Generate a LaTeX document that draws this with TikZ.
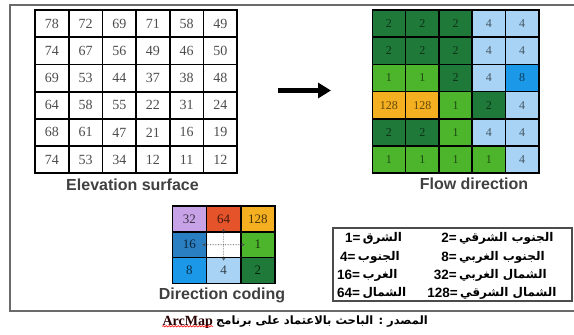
\documentclass[tikz,border=0pt]{standalone}
\usepackage{fontspec}
\setmainfont{Liberation Serif}
\newfontfamily\labelfont{Liberation Sans}
\newfontfamily\arabicfont[Script=Arabic]{DejaVu Sans}
\TeXXeTstate=1
\usetikzlibrary{arrows.meta,decorations.pathmorphing,calc}
\definecolor{dgreen}{HTML}{1F7A3A}
\definecolor{lgreen}{HTML}{4CB52C}
\definecolor{lblue}{HTML}{A8D3F4}
\definecolor{mblue}{HTML}{1C98E8}
\definecolor{orng}{HTML}{F4B020}
\definecolor{lav}{HTML}{C8A2E6}
\definecolor{redo}{HTML}{E5532B}
\definecolor{sblue}{HTML}{2A7EC2}
\definecolor{framegray}{HTML}{6A6A6A}
\begin{document}
\begin{tikzpicture}[x=1pt,y=-1pt,
  elevcell/.style={draw=black, line width=1.8pt, minimum width=33.7pt, minimum height=27.2pt, inner sep=0pt, font=\fontsize{14}{14}\selectfont, text=black!70},
  flowcell/.style={draw=black, line width=1.6pt, minimum width=33.3pt, minimum height=27.2pt, inner sep=0pt, font=\fontsize{12}{12}\selectfont, text=black, text opacity=0.6},
  codecell/.style={draw=black, line width=1.6pt, minimum width=34.2pt, minimum height=25.8pt, inner sep=0pt, font=\fontsize{13}{13}\selectfont, text=black, text opacity=0.7},
  caption/.style={font=\labelfont\bfseries\fontsize{16}{16}\selectfont, text=black!75},
  legnum/.style={font=\labelfont\bfseries\fontsize{13.5}{14}\selectfont, inner sep=0pt},
  legar/.style={font=\arabicfont\bfseries\fontsize{12}{13}\selectfont, inner sep=0pt},
  smallarr/.style={densely dotted, line width=0.6pt, black!70, -{Stealth[length=3pt,width=3pt]}}
]
\useasboundingbox (0,0) rectangle (574,335);
% outer frame
\draw[framegray, line width=1.8pt] (576,5) -- (10,5) -- (10,311) -- (576,311);

% elevation grid
\foreach \row [count=\r from 0] in {{78,72,69,71,58,49},{74,67,56,49,46,50},{69,53,44,37,38,48},{64,58,55,22,31,24},{68,61,47,21,16,19},{74,53,34,12,11,12}}{
  \foreach \v [count=\c from 0] in \row {
    \node[elevcell] (e-\r-\c) at ({35+33.7*(\c+0.5)},{10+27.2*(\r+0.5)}) {\v};
  }
}
\node[caption] (elab) at (132.5,185) {Elevation surface};

% flow direction grid
\foreach \row [count=\r from 0] in {{2/dgreen,2/dgreen,2/dgreen,4/lblue,4/lblue},{2/dgreen,2/dgreen,2/dgreen,4/lblue,4/lblue},{1/lgreen,1/lgreen,2/dgreen,4/lblue,8/mblue},{128/orng,128/orng,1/lgreen,2/dgreen,4/lblue},{2/dgreen,2/dgreen,1/lgreen,4/lblue,4/lblue},{1/lgreen,1/lgreen,1/lgreen,1/lgreen,4/lblue}}{
  \foreach \v/\col [count=\c from 0] in \row {
    \node[flowcell, fill=\col] (f-\r-\c) at ({372.3+33.3*(\c+0.5)},{10+27.2*(\r+0.5)}) {\v};
  }
}
\node[caption] (flab) at (474,184) {Flow direction};

% big arrow
\coordinate (arrS) at (278,90.5);
\coordinate (arrE) at (331,90.5);
\draw[line width=4.5pt, black, -{Triangle[length=13pt,width=15pt]}] (arrS) -- (arrE);

% direction coding
\foreach \row [count=\r from 0] in {{32/lav,64/redo,128/orng},{16/sblue,/white,1/lgreen},{8/mblue,4/lblue,2/dgreen}}{
  \foreach \v/\col [count=\c from 0] in \row {
    \node[codecell, fill=\col] (d-\r-\c) at ({172.3+34.2*(\c+0.5)},{206+25.8*(\r+0.5)}) {\v};
  }
}
\foreach \tgt in {d-1-0, d-1-2, d-0-1, d-2-1}{
  \draw[smallarr] (d-1-1.center) -- ($(d-1-1.center)!0.62!(\tgt.center)$);
}
\node[caption] (dlab) at (222,295) {Direction coding};

% legend
\node[draw=black!70, line width=1.4pt, minimum width=239pt, minimum height=73pt, inner sep=0pt] (leg) at (452.5,264.5) {};
\node[legnum, anchor=west] (n1) at (345,238) {1=};
\node[legar, anchor=west] (a1) at (n1.east) {\,\beginR الشرق\endR};
\node[legnum, anchor=west] (n4) at (340,257) {4=};
\node[legar, anchor=west] (a4) at (n4.east) {\,\beginR الجنوب\endR};
\node[legnum, anchor=west] (n16) at (337,275) {16=};
\node[legar, anchor=west] (a16) at (n16.east) {\,\beginR الغرب\endR};
\node[legnum, anchor=west] (n64) at (337,293) {64=};
\node[legar, anchor=west] (a64) at (n64.east) {\,\beginR الشمال\endR};
\node[legnum, anchor=east] (n2) at (457,238) {2=};
\node[legar, anchor=west] (a2) at (459,238) {\beginR الجنوب الشرقي\endR};
\node[legnum, anchor=east] (n8) at (457,257) {8=};
\node[legar, anchor=west] (a8) at (459,257) {\beginR الجنوب الغربي\endR};
\node[legnum, anchor=east] (n32) at (457,275) {32=};
\node[legar, anchor=west] (a32) at (459,275) {\beginR الشمال الغربي\endR};
\node[legnum, anchor=east] (n128) at (458,293) {128=};
\node[legar, anchor=west] (a128) at (460,293) {\beginR الشمال الشرقي\endR};

% source line
\node[font=\bfseries\fontsize{14}{14}\selectfont, text=black!85!red, inner sep=0pt, anchor=east] (arc) at (213,322) {ArcMap};
\node[font=\arabicfont\bfseries\fontsize{11.5}{12}\selectfont, inner sep=0pt, anchor=west] (src) at (216,322) {\beginR المصدر : الباحث بالاعتماد على برنامج\endR};
\draw[red, line width=0.6pt, decorate, decoration={snake, amplitude=0.7pt, segment length=3pt}] ([yshift=2pt]arc.south west) -- ([yshift=2pt]arc.south east);
\end{tikzpicture}
\end{document}
